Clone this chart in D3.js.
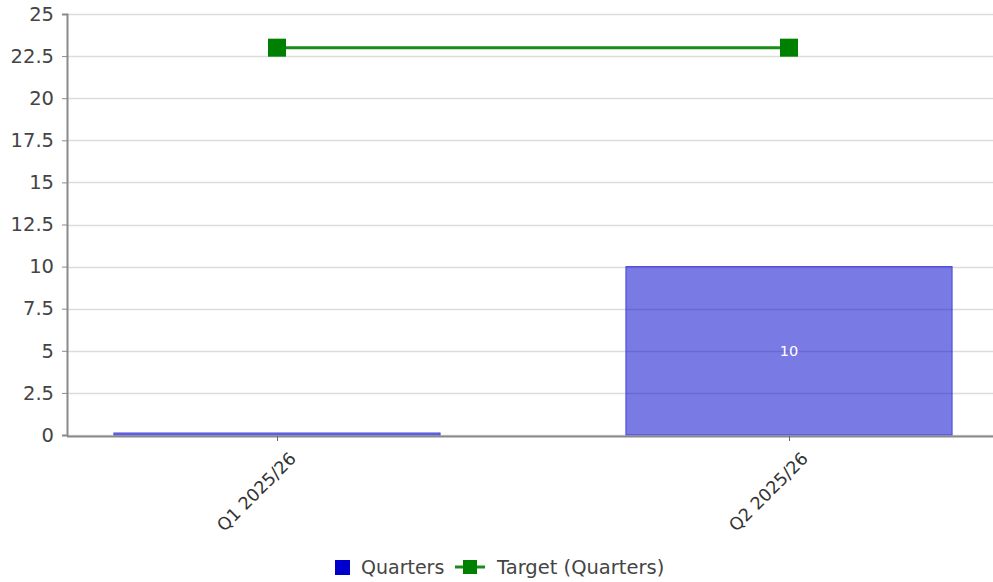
<!DOCTYPE html>
<html>
<head>
<meta charset="utf-8">
<script src="https://cdn.jsdelivr.net/npm/d3@7"></script>
<style>
  body { margin: 0; background: #fff; }
  text { font-family: "DejaVu Sans", Verdana, sans-serif; }
</style>
</head>
<body>
<script>
// data
const categories = ["Q1 2025/26", "Q2 2025/26"];
const quarters = [0, 10];
const target = [23, 23];
const yTicks = [0, 2.5, 5, 7.5, 10, 12.5, 15, 17.5, 20, 22.5, 25];

const W = 993, H = 582;
const margin = {top: 14, right: 0, bottom: 147, left: 67};

const svg = d3.select("body").append("svg")
    .attr("width", W)
    .attr("height", H);

const y = d3.scaleLinear().domain([0, 25]).range([H - margin.bottom, margin.top]);
// category centres sit at 277 and 789
const x = d3.scalePoint().domain(categories).range([277, 789]);
const barW = x.step() * 0.637;

// grid
svg.append("g")
    .selectAll("line")
    .data(yTicks)
    .enter().append("line")
    .attr("x1", margin.left)
    .attr("x2", W)
    .attr("y1", d => Math.round(y(d)) + 0.5)
    .attr("y2", d => Math.round(y(d)) + 0.5)
    .attr("stroke", "#dcdcdc")
    .attr("stroke-width", 1.5);

// y axis
const yAxis = svg.append("g")
    .attr("transform", `translate(${margin.left},0)`)
    .call(d3.axisLeft(y).tickValues(yTicks).tickSize(5).tickPadding(8).tickFormat(d => d));
yAxis.select(".domain").attr("stroke", "#8a8a8a").attr("stroke-width", 2);
yAxis.selectAll(".tick line").attr("stroke", "#8a8a8a");
yAxis.selectAll(".tick text").attr("fill", "#444").style("font-size", "19.5px");

// bars
svg.append("g")
    .selectAll("rect")
    .data(quarters)
    .enter().append("rect")
    .attr("x", (d, i) => x(categories[i]) - barW / 2)
    .attr("width", barW)
    .attr("y", d => Math.min(y(d), y(0) - 2))
    .attr("height", d => Math.max(y(0) - y(d), 2))
    .attr("fill", "#0000cc")
    .attr("fill-opacity", 0.52)
    .attr("stroke", "#4444dd")
    .attr("stroke-width", 1);

// value labels
svg.append("g")
    .selectAll("text")
    .data(quarters)
    .enter().filter(d => d > 0).append("text")
    .attr("x", (d, i) => x(categories[quarters.indexOf(d)]))
    .attr("y", d => (y(0) + y(d)) / 2 + 5)
    .attr("text-anchor", "middle")
    .attr("fill", "#fff")
    .style("font-size", "14.5px")
    .text(d => d);

// x axis
const xAxis = svg.append("g")
    .attr("transform", `translate(0,${y(0) + 1})`)
    .call(d3.axisBottom(x).tickSize(5).tickSizeOuter(0));
xAxis.select(".domain").attr("d", `M${margin.left},0.5H${W}`).attr("stroke", "#8a8a8a").attr("stroke-width", 2);
xAxis.selectAll(".tick line").attr("stroke", "#666");
xAxis.selectAll(".tick text")
    .attr("fill", "#333")
    .style("font-size", "17.5px")
    .attr("text-anchor", "end")
    .attr("dy", null)
    .attr("transform", "translate(14,18) rotate(-45)");

// target line
const line = d3.line()
    .x((d, i) => x(categories[i]))
    .y(d => y(d));
svg.append("path")
    .datum(target)
    .attr("d", line)
    .attr("fill", "none")
    .attr("stroke", "#1a8c1a")
    .attr("stroke-width", 3);
svg.append("g")
    .selectAll("rect")
    .data(target)
    .enter().append("rect")
    .attr("x", (d, i) => x(categories[i]) - 9)
    .attr("y", d => y(d) - 9)
    .attr("width", 18)
    .attr("height", 18)
    .attr("fill", "#008000");

// legend
const legend = svg.append("g").attr("transform", "translate(335,567)");
legend.append("rect")
    .attr("x", 0).attr("y", -7)
    .attr("width", 15).attr("height", 15)
    .attr("fill", "#0000cc");
legend.append("text")
    .attr("x", 26).attr("y", 7)
    .attr("fill", "#444")
    .style("font-size", "19px")
    .text("Quarters");
legend.append("line")
    .attr("x1", 120).attr("x2", 150)
    .attr("y1", 0).attr("y2", 0)
    .attr("stroke", "#1a8c1a").attr("stroke-width", 3);
legend.append("rect")
    .attr("x", 128).attr("y", -7)
    .attr("width", 14).attr("height", 14)
    .attr("fill", "#008000");
legend.append("text")
    .attr("x", 162).attr("y", 7)
    .attr("fill", "#444")
    .style("font-size", "19.5px")
    .text("Target (Quarters)");
</script>
</body>
</html>
